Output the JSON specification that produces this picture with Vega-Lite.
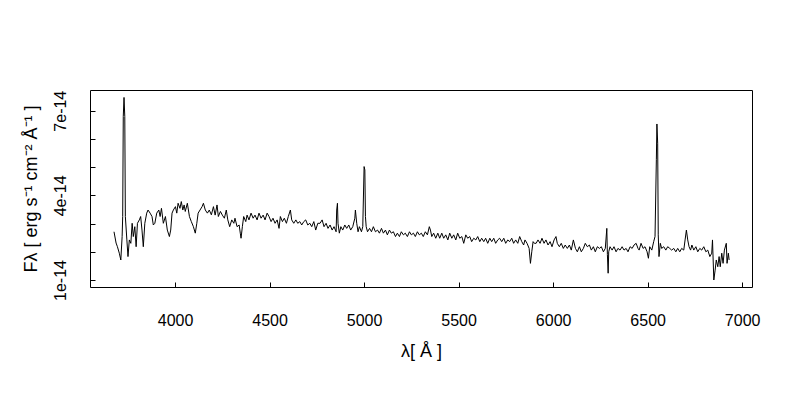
{
  "$schema": "https://vega.github.io/schema/vega-lite/v6.json",
  "width": 662,
  "height": 197,
  "autosize": {"type": "none"},
  "padding": {"left": 90, "top": 90, "right": 48, "bottom": 113},
  "background": "white",
  "config": {
    "view": {"stroke": "black", "strokeWidth": 1},
    "axis": {
      "domain": false,
      "grid": false,
      "tickColor": "black",
      "tickSize": -5,
      "labelColor": "black",
      "labelFont": "Liberation Sans",
      "labelFontSize": 16,
      "titleFont": "Liberation Sans",
      "titleFontSize": 18,
      "titleFontWeight": "normal",
      "titleColor": "black"
    }
  },
  "data": {
    "values": [
      {"w":3677,"f":2.71e-14},{"w":3688,"f":2.31e-14},{"w":3695,"f":2.18e-14},{"w":3705,"f":1.95e-14},{"w":3713,"f":1.71e-14},
      {"w":3720,"f":2.54e-14},{"w":3723,"f":3.25e-14},{"w":3726,"f":6.8e-14},{"w":3730,"f":7.47e-14},{"w":3734,"f":6.79e-14},
      {"w":3737,"f":3.25e-14},{"w":3745,"f":2.42e-14},{"w":3751,"f":1.83e-14},{"w":3758,"f":2.42e-14},{"w":3766,"f":2.30e-14},
      {"w":3773,"f":3.01e-14},{"w":3779,"f":2.54e-14},{"w":3787,"f":2.89e-14},{"w":3794,"f":2.18e-14},{"w":3801,"f":3.01e-14},
      {"w":3811,"f":3.13e-14},{"w":3818,"f":3.25e-14},{"w":3825,"f":2.77e-14},{"w":3832,"f":2.18e-14},{"w":3840,"f":3.01e-14},
      {"w":3850,"f":3.37e-14},{"w":3857,"f":3.48e-14},{"w":3868,"f":3.37e-14},{"w":3878,"f":3.25e-14},{"w":3885,"f":2.95e-14},
      {"w":3893,"f":3.01e-14},{"w":3903,"f":3.37e-14},{"w":3914,"f":3.48e-14},{"w":3921,"f":3.25e-14},{"w":3928,"f":3.54e-14},
      {"w":3938,"f":3.01e-14},{"w":3949,"f":3.25e-14},{"w":3959,"f":2.77e-14},{"w":3970,"f":2.54e-14},{"w":3977,"f":2.77e-14},
      {"w":3984,"f":3.37e-14},{"w":3991,"f":3.48e-14},{"w":4002,"f":3.60e-14},{"w":4009,"f":3.37e-14},{"w":4016,"f":3.72e-14},
      {"w":4026,"f":3.54e-14},{"w":4033,"f":3.78e-14},{"w":4041,"f":3.48e-14},{"w":4048,"f":3.66e-14},{"w":4054,"f":3.43e-14},
      {"w":4065,"f":3.72e-14},{"w":4076,"f":3.25e-14},{"w":4086,"f":3.07e-14},{"w":4097,"f":2.89e-14},{"w":4107,"f":2.66e-14},
      {"w":4115,"f":3.01e-14},{"w":4122,"f":3.37e-14},{"w":4132,"f":3.48e-14},{"w":4143,"f":3.60e-14},{"w":4150,"f":3.72e-14},
      {"w":4160,"f":3.48e-14},{"w":4171,"f":3.37e-14},{"w":4181,"f":3.48e-14},{"w":4192,"f":3.31e-14},{"w":4203,"f":3.60e-14},
      {"w":4212,"f":3.30e-14},{"w":4222,"f":3.66e-14},{"w":4229,"f":3.25e-14},{"w":4240,"f":3.43e-14},{"w":4250,"f":3.30e-14},
      {"w":4261,"f":3.19e-14},{"w":4271,"f":3.48e-14},{"w":4279,"f":3.13e-14},{"w":4289,"f":2.89e-14},{"w":4300,"f":3.13e-14},
      {"w":4311,"f":3.01e-14},{"w":4317,"f":3.19e-14},{"w":4328,"f":2.89e-14},{"w":4339,"f":2.95e-14},{"w":4345,"f":2.66e-14},
      {"w":4349,"f":2.48e-14},{"w":4356,"f":2.89e-14},{"w":4363,"f":3.25e-14},{"w":4374,"f":3.07e-14},{"w":4381,"f":3.30e-14},
      {"w":4391,"f":3.13e-14},{"w":4402,"f":3.37e-14},{"w":4413,"f":3.19e-14},{"w":4423,"f":3.30e-14},{"w":4434,"f":3.13e-14},
      {"w":4444,"f":3.37e-14},{"w":4455,"f":3.19e-14},{"w":4466,"f":3.30e-14},{"w":4476,"f":3.13e-14},{"w":4487,"f":3.37e-14},
      {"w":4497,"f":3.25e-14},{"w":4508,"f":3.07e-14},{"w":4518,"f":3.19e-14},{"w":4529,"f":3.01e-14},{"w":4540,"f":3.13e-14},
      {"w":4550,"f":2.83e-14},{"w":4557,"f":3.25e-14},{"w":4568,"f":3.07e-14},{"w":4578,"f":3.19e-14},{"w":4589,"f":3.01e-14},
      {"w":4599,"f":3.25e-14},{"w":4610,"f":3.48e-14},{"w":4617,"f":3.13e-14},{"w":4628,"f":3.01e-14},{"w":4639,"f":3.13e-14},
      {"w":4649,"f":3.01e-14},{"w":4660,"f":3.07e-14},{"w":4670,"f":2.95e-14},{"w":4681,"f":3.07e-14},{"w":4691,"f":3.13e-14},
      {"w":4702,"f":2.95e-14},{"w":4713,"f":3.01e-14},{"w":4723,"f":2.89e-14},{"w":4734,"f":3.07e-14},{"w":4744,"f":2.77e-14},
      {"w":4755,"f":3.01e-14},{"w":4767,"f":3.01e-14},{"w":4778,"f":3.13e-14},{"w":4788,"f":2.89e-14},{"w":4799,"f":3.01e-14},
      {"w":4809,"f":2.83e-14},{"w":4820,"f":2.95e-14},{"w":4831,"f":2.77e-14},{"w":4841,"f":2.89e-14},{"w":4852,"f":2.71e-14},
      {"w":4855,"f":3.48e-14},{"w":4859,"f":3.72e-14},{"w":4862,"f":3.01e-14},{"w":4869,"f":2.66e-14},{"w":4877,"f":2.89e-14},
      {"w":4887,"f":2.77e-14},{"w":4898,"f":2.95e-14},{"w":4908,"f":2.83e-14},{"w":4919,"f":2.95e-14},{"w":4929,"f":2.77e-14},
      {"w":4940,"f":2.89e-14},{"w":4951,"f":3.19e-14},{"w":4954,"f":3.48e-14},{"w":4961,"f":3.01e-14},{"w":4968,"f":2.71e-14},
      {"w":4975,"f":2.89e-14},{"w":4986,"f":2.71e-14},{"w":4993,"f":2.89e-14},{"w":5000,"f":5.02e-14},{"w":5004,"f":4.90e-14},
      {"w":5007,"f":3.25e-14},{"w":5011,"f":2.89e-14},{"w":5018,"f":2.71e-14},{"w":5029,"f":2.83e-14},{"w":5039,"f":2.71e-14},
      {"w":5049,"f":2.89e-14},{"w":5060,"f":2.71e-14},{"w":5071,"f":2.77e-14},{"w":5081,"f":2.66e-14},{"w":5092,"f":2.83e-14},
      {"w":5102,"f":2.66e-14},{"w":5113,"f":2.77e-14},{"w":5123,"f":2.60e-14},{"w":5134,"f":2.77e-14},{"w":5144,"f":2.66e-14},
      {"w":5155,"f":2.71e-14},{"w":5166,"f":2.54e-14},{"w":5176,"f":2.66e-14},{"w":5187,"f":2.54e-14},{"w":5197,"f":2.71e-14},
      {"w":5208,"f":2.60e-14},{"w":5218,"f":2.66e-14},{"w":5229,"f":2.54e-14},{"w":5240,"f":2.71e-14},{"w":5250,"f":2.60e-14},
      {"w":5261,"f":2.66e-14},{"w":5271,"f":2.54e-14},{"w":5282,"f":2.71e-14},{"w":5292,"f":2.60e-14},{"w":5303,"f":2.66e-14},
      {"w":5313,"f":2.54e-14},{"w":5324,"f":2.71e-14},{"w":5335,"f":2.60e-14},{"w":5345,"f":2.89e-14},{"w":5351,"f":2.77e-14},
      {"w":5358,"f":2.54e-14},{"w":5368,"f":2.66e-14},{"w":5379,"f":2.48e-14},{"w":5390,"f":2.66e-14},{"w":5400,"f":2.48e-14},
      {"w":5411,"f":2.66e-14},{"w":5421,"f":2.48e-14},{"w":5432,"f":2.60e-14},{"w":5443,"f":2.42e-14},{"w":5453,"f":2.66e-14},
      {"w":5464,"f":2.48e-14},{"w":5474,"f":2.60e-14},{"w":5485,"f":2.42e-14},{"w":5495,"f":2.66e-14},{"w":5506,"f":2.48e-14},
      {"w":5517,"f":2.54e-14},{"w":5527,"f":2.30e-14},{"w":5538,"f":2.60e-14},{"w":5548,"f":2.48e-14},{"w":5559,"f":2.54e-14},
      {"w":5569,"f":2.36e-14},{"w":5580,"f":2.48e-14},{"w":5591,"f":2.42e-14},{"w":5601,"f":2.54e-14},{"w":5612,"f":2.36e-14},
      {"w":5622,"f":2.48e-14},{"w":5633,"f":2.36e-14},{"w":5643,"f":2.48e-14},{"w":5654,"f":2.30e-14},{"w":5665,"f":2.48e-14},
      {"w":5675,"f":2.36e-14},{"w":5686,"f":2.48e-14},{"w":5696,"f":2.30e-14},{"w":5707,"f":2.42e-14},{"w":5717,"f":2.48e-14},
      {"w":5728,"f":2.36e-14},{"w":5739,"f":2.48e-14},{"w":5749,"f":2.30e-14},{"w":5760,"f":2.42e-14},{"w":5770,"f":2.36e-14},
      {"w":5781,"f":2.48e-14},{"w":5791,"f":2.30e-14},{"w":5802,"f":2.42e-14},{"w":5813,"f":2.30e-14},{"w":5823,"f":2.54e-14},
      {"w":5834,"f":2.36e-14},{"w":5844,"f":2.24e-14},{"w":5851,"f":2.42e-14},{"w":5862,"f":2.30e-14},{"w":5873,"f":2.12e-14},
      {"w":5880,"f":1.59e-14},{"w":5887,"f":2.00e-14},{"w":5894,"f":2.36e-14},{"w":5901,"f":2.30e-14},{"w":5910,"f":2.30e-14},
      {"w":5920,"f":2.42e-14},{"w":5931,"f":2.30e-14},{"w":5941,"f":2.48e-14},{"w":5952,"f":2.30e-14},{"w":5962,"f":2.42e-14},
      {"w":5973,"f":2.24e-14},{"w":5984,"f":2.36e-14},{"w":5994,"f":2.18e-14},{"w":6005,"f":2.42e-14},{"w":6015,"f":2.54e-14},
      {"w":6022,"f":2.30e-14},{"w":6033,"f":2.18e-14},{"w":6043,"f":2.30e-14},{"w":6054,"f":2.12e-14},{"w":6064,"f":2.24e-14},
      {"w":6075,"f":2.12e-14},{"w":6086,"f":2.24e-14},{"w":6096,"f":2.06e-14},{"w":6107,"f":2.42e-14},{"w":6118,"f":2.12e-14},
      {"w":6128,"f":2.00e-14},{"w":6139,"f":2.18e-14},{"w":6149,"f":2.00e-14},{"w":6160,"f":2.12e-14},{"w":6170,"f":2.30e-14},
      {"w":6181,"f":2.18e-14},{"w":6192,"f":2.24e-14},{"w":6202,"f":2.06e-14},{"w":6213,"f":2.18e-14},{"w":6223,"f":2.00e-14},
      {"w":6234,"f":2.18e-14},{"w":6245,"f":2.12e-14},{"w":6255,"f":2.18e-14},{"w":6266,"f":2.00e-14},{"w":6276,"f":2.12e-14},
      {"w":6284,"f":2.83e-14},{"w":6287,"f":1.90e-14},{"w":6291,"f":1.24e-14},{"w":6294,"f":2.00e-14},{"w":6301,"f":2.18e-14},
      {"w":6312,"f":2.06e-14},{"w":6322,"f":2.18e-14},{"w":6333,"f":2.00e-14},{"w":6343,"f":2.12e-14},{"w":6354,"f":2.06e-14},
      {"w":6365,"f":2.18e-14},{"w":6375,"f":2.06e-14},{"w":6386,"f":2.12e-14},{"w":6396,"f":2.00e-14},{"w":6407,"f":2.18e-14},
      {"w":6418,"f":2.12e-14},{"w":6428,"f":2.24e-14},{"w":6439,"f":2.30e-14},{"w":6449,"f":2.12e-14},{"w":6455,"f":2.06e-14},
      {"w":6465,"f":2.30e-14},{"w":6476,"f":2.12e-14},{"w":6486,"f":2.18e-14},{"w":6497,"f":2.00e-14},{"w":6504,"f":1.77e-14},
      {"w":6511,"f":2.18e-14},{"w":6522,"f":2.06e-14},{"w":6532,"f":2.36e-14},{"w":6539,"f":2.54e-14},{"w":6546,"f":5.26e-14},
      {"w":6549,"f":6.53e-14},{"w":6553,"f":5.85e-14},{"w":6556,"f":2.60e-14},{"w":6560,"f":1.83e-14},{"w":6567,"f":2.30e-14},
      {"w":6574,"f":2.12e-14},{"w":6585,"f":2.18e-14},{"w":6596,"f":2.06e-14},{"w":6606,"f":2.18e-14},{"w":6617,"f":2.12e-14},
      {"w":6627,"f":2.06e-14},{"w":6638,"f":2.12e-14},{"w":6649,"f":2.00e-14},{"w":6659,"f":2.12e-14},{"w":6670,"f":2.00e-14},
      {"w":6680,"f":2.12e-14},{"w":6691,"f":2.06e-14},{"w":6698,"f":2.42e-14},{"w":6705,"f":2.77e-14},{"w":6712,"f":2.42e-14},
      {"w":6719,"f":2.18e-14},{"w":6727,"f":2.06e-14},{"w":6734,"f":2.24e-14},{"w":6744,"f":2.06e-14},{"w":6755,"f":2.18e-14},
      {"w":6765,"f":2.00e-14},{"w":6776,"f":2.12e-14},{"w":6786,"f":2.06e-14},{"w":6797,"f":2.18e-14},{"w":6808,"f":2.00e-14},
      {"w":6818,"f":2.06e-14},{"w":6829,"f":1.83e-14},{"w":6839,"f":1.95e-14},{"w":6843,"f":2.42e-14},{"w":6850,"f":1.00e-14},
      {"w":6857,"f":1.35e-14},{"w":6863,"f":1.71e-14},{"w":6871,"f":1.47e-14},{"w":6878,"f":1.83e-14},{"w":6884,"f":1.47e-14},
      {"w":6892,"f":1.95e-14},{"w":6899,"f":1.59e-14},{"w":6906,"f":2.06e-14},{"w":6916,"f":2.30e-14},{"w":6920,"f":1.59e-14},
      {"w":6927,"f":1.95e-14},{"w":6931,"f":1.71e-14}
    ]
  },
  "mark": {"type": "line", "color": "black", "strokeWidth": 1, "interpolate": "linear"},
  "encoding": {
    "x": {
      "field": "w",
      "type": "quantitative",
      "scale": {"domain": [3550, 7052], "nice": false, "zero": false},
      "axis": {
        "values": [4000, 4500, 5000, 5500, 6000, 6500, 7000],
        "format": "d",
        "labelPadding": 30,
        "title": "λ[ Å ]",
        "titlePadding": 14
      }
    },
    "y": {
      "field": "f",
      "type": "quantitative",
      "scale": {"domain": [0.752e-14, 7.734e-14], "nice": false, "zero": false},
      "axis": {
        "values": [1e-14, 2e-14, 3e-14, 4e-14, 5e-14, 6e-14, 7e-14],
        "labelExpr": "(round(datum.value*1e14) == 1 || round(datum.value*1e14) == 4 || round(datum.value*1e14) == 7) ? round(datum.value*1e14) + 'e-14' : ''",
        "labelAngle": -90,
        "labelAlign": "center",
        "labelBaseline": "bottom",
        "labelPadding": 27,
        "title": "Fλ [ erg s⁻¹ cm⁻² Å⁻¹ ]",
        "titlePadding": 12
      }
    }
  }
}
